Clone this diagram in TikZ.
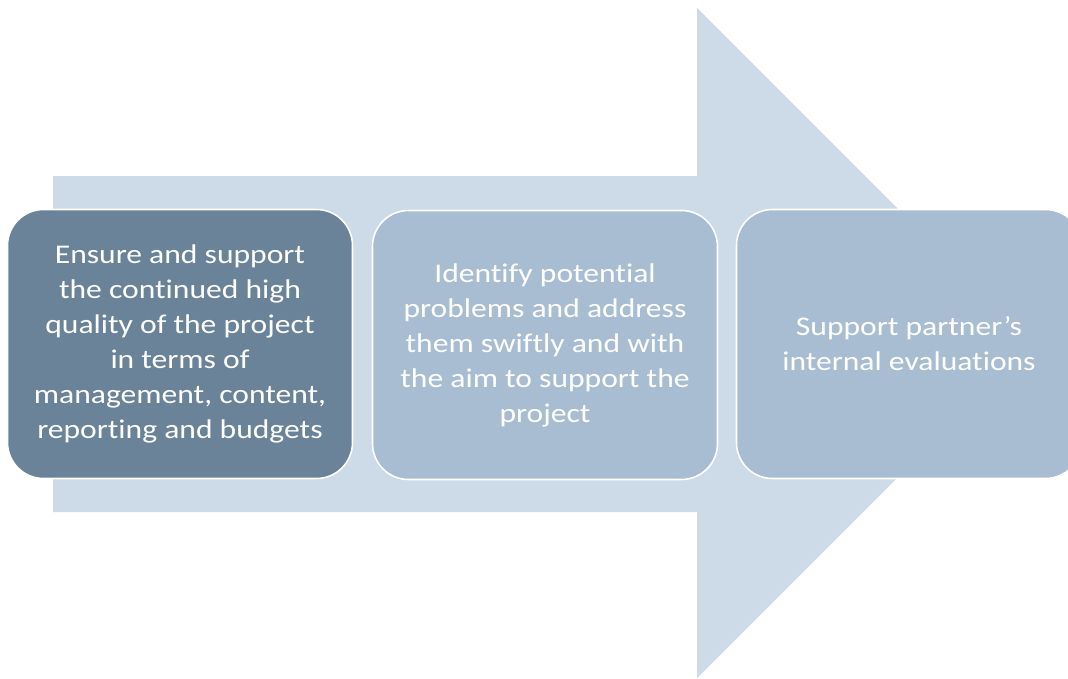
\documentclass[tikz,border=0pt]{standalone}
\usepackage{fontspec}
\setmainfont{Carlito}[FakeStretch=1.17, Ligatures=CommonOff]
\definecolor{shaft}{HTML}{CDDAE7}
\definecolor{stepdark}{HTML}{6A8399}
\definecolor{steplight}{HTML}{A9BDD2}

\begin{document}
\begin{tikzpicture}[
  x=1pt, y=-1pt,
  font=\fontsize{27}{35}\selectfont,
  stepbox/.style={draw=white, line width=1.6pt, fill=steplight,
    rounded corners=36pt, minimum width=345pt, minimum height=269pt,
    align=center, text=white, inner sep=0pt},
  firstbox/.style={stepbox, fill=stepdark}
]
\useasboundingbox (0,0) rectangle (1068,678);
\clip (0,0) rectangle (1068,678);

% Background arrow behind the three steps; its tip is hidden by the last box.
\fill[shaft] (53,176) -- (697,176) -- (697,8) -- (1032,343)
  -- (697,678) -- (697,512) -- (53,512) -- cycle;

\node[firstbox] (quality) at (180,344) {Ensure and support\\the continued high\\quality of the project\\in terms of\\management, content,\\reporting and budgets};
\node[stepbox] (problems) at (545,345) {Identify potential\\problems and address\\them swiftly and with\\the aim to support the\\project};
\node[stepbox] (partner) at (909,344) {Support partner’s\\internal evaluations};
\end{tikzpicture}
\end{document}
